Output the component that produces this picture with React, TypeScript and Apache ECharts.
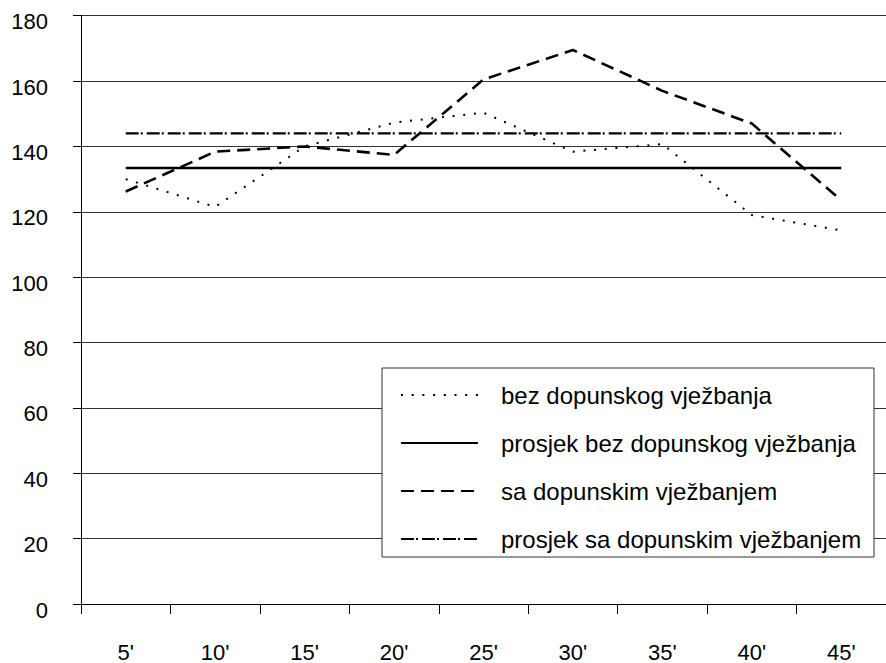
import React, { useEffect, useRef } from "react";
import * as echarts from "echarts";

const categories = ["5'", "10'", "15'", "20'", "25'", "30'", "35'", "40'", "45'"];
const bezDopunskog = [130, 121.5, 140, 147.3, 150.3, 138.4, 140.7, 119, 114.3];
const prosjekBez = [133.4, 133.4, 133.4, 133.4, 133.4, 133.4, 133.4, 133.4, 133.4];
const saDopunskim = [126.2, 138.4, 140, 137.4, 160.5, 169.5, 157, 147, 123.5];
const prosjekSa = [144, 144, 144, 144, 144, 144, 144, 144, 144];
const seriesNames = [
  "bez dopunskog vježbanja",
  "prosjek bez dopunskog vježbanja",
  "sa dopunskim vježbanjem",
  "prosjek sa dopunskim vježbanjem",
];

const FONT = "'Liberation Sans', Arial, sans-serif";

export default function App() {
  const ref = useRef<HTMLDivElement>(null);
  useEffect(() => {
    if (!ref.current) return;
    const chart = echarts.init(ref.current, null, { renderer: "svg" });
    const mk = (name: string, data: number[], type: any, width: number) => ({
      name,
      type: "line",
      data,
      symbol: "none",
      silent: true,
      lineStyle: { color: "#000", width, type, cap: "butt" },
      itemStyle: { color: "#000" },
    });
    chart.setOption({
      animation: false,
      backgroundColor: "#fff",
      textStyle: { fontFamily: FONT },
      grid: { left: 81, top: 15.7, width: 815.3, bottom: 58, containLabel: false },
      xAxis: {
        type: "category",
        data: categories,
        boundaryGap: true,
        axisLine: { lineStyle: { color: "#000", width: 1 } },
        axisTick: { show: true, length: 10, alignWithLabel: false, lineStyle: { color: "#000" } },
        axisLabel: { color: "#000", fontSize: 22, fontFamily: FONT, margin: 37, interval: 0 },
        splitLine: { show: false },
      },
      yAxis: {
        type: "value",
        min: 0,
        max: 180,
        interval: 20,
        axisLine: { show: true, lineStyle: { color: "#000", width: 1 } },
        axisTick: { show: true, length: 8, lineStyle: { color: "#000" } },
        axisLabel: {
          color: "#000",
          fontSize: 22,
          fontFamily: FONT,
          margin: 33,
          verticalAlign: "top",
          lineHeight: 12,
        },
        splitLine: { show: true, lineStyle: { color: "#333", width: 1 } },
      },
      graphic: [
        {
          type: "rect",
          z: 10,
          shape: { x: 382, y: 368, width: 492, height: 189 },
          style: { fill: "#fff", stroke: "#333", lineWidth: 1 },
        },
      ],
      legend: {
        z: 20,
        orient: "vertical",
        left: 400,
        top: 383,
        padding: 0,
        itemWidth: 77,
        itemHeight: 24,
        itemGap: 24,
        selectedMode: false,
        data: seriesNames,
        itemStyle: { opacity: 0, color: "rgba(0,0,0,0)", borderWidth: 0 },
        textStyle: {
          color: "#000",
          fontSize: 24,
          fontFamily: FONT,
          lineHeight: 24,
          padding: [0, 0, 0, 18],
        },
      },
      series: [
        mk(seriesNames[0], bezDopunskog, [2, 8.7], 2),
        mk(seriesNames[1], prosjekBez, "solid", 2.7),
        mk(seriesNames[2], saDopunskim, [13, 7], 2.6),
        mk(seriesNames[3], prosjekSa, [13, 2, 2, 4], 2.1),
      ],
    });
    return () => chart.dispose();
  }, []);
  return (
    <div
      ref={ref}
      style={{ position: "fixed", left: 0, top: 0, width: 886, height: 663, background: "#fff" }}
    />
  );
}
